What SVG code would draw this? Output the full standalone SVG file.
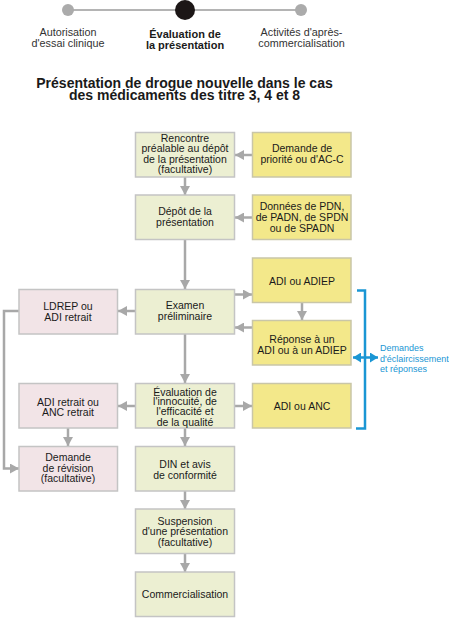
<svg xmlns="http://www.w3.org/2000/svg" width="449" height="618" viewBox="0 0 449 618">
<defs>
<style>
text{font-family:"Liberation Sans",Arial,sans-serif;font-size:10.5px;fill:#1a1a1a;text-anchor:middle}
.g{fill:#ecefd2;stroke:#c4c4c4;stroke-width:1.5}
.y{fill:#f3e88a;stroke:#c9c6a8;stroke-width:1.5}
.p{fill:#f2e4e7;stroke:#c4c4c4;stroke-width:1.5}
.c{fill:none;stroke:#a8a8a8;stroke-width:2.5}
.tl{font-size:10.8px;fill:#333}
.tb{font-weight:bold;font-size:11px}
.ti{font-weight:bold;font-size:14px}
.bl{fill:none;stroke:#1a96d4;stroke-width:2.5}
.bt{fill:#1a96d4;font-size:9px;text-anchor:start}
</style>
<marker id="ah" markerUnits="userSpaceOnUse" markerWidth="9" markerHeight="10" refX="9" refY="5" orient="auto">
<path d="M0,0 L9,5 L0,10 z" fill="#a8a8a8"/>
</marker>
<marker id="bh" markerUnits="userSpaceOnUse" markerWidth="8" markerHeight="10" refX="8" refY="5" orient="auto-start-reverse">
<path d="M0,0 L8,5 L0,10 z" fill="#1a96d4"/>
</marker>
</defs>
<rect width="449" height="618" fill="#ffffff"/>

<g id="timeline">
<line x1="68" y1="10" x2="301" y2="10" stroke="#b4b4b4" stroke-width="2"/>
<circle cx="68" cy="10" r="6" fill="#ababab"/>
<circle cx="301" cy="10" r="6" fill="#ababab"/>
<circle cx="185" cy="10" r="10" fill="#1c1616"/>
<text class="tl" x="68" y="35.5">Autorisation</text>
<text class="tl" x="68" y="46.5">d'essai clinique</text>
<text class="tb" x="185" y="37.5">Évaluation de</text>
<text class="tb" x="185" y="48.5">la présentation</text>
<text class="tl" x="301.5" y="35.5">Activités d'après-</text>
<text class="tl" x="301.5" y="46.5">commercialisation</text>
</g>

<g id="title">
<text class="ti" x="184.5" y="87.5">Présentation de drogue nouvelle dans le cas</text>
<text class="ti" x="184.5" y="100">des médicaments des titre 3, 4 et 8</text>
</g>

<g id="connectors">
<line class="c" x1="252" y1="155" x2="235" y2="155" marker-end="url(#ah)"/>
<line class="c" x1="185" y1="177" x2="185" y2="195" marker-end="url(#ah)"/>
<line class="c" x1="252" y1="217.5" x2="235" y2="217.5" marker-end="url(#ah)"/>
<line class="c" x1="185" y1="239" x2="185" y2="289" marker-end="url(#ah)"/>
<line class="c" x1="234" y1="294.5" x2="252" y2="294.5" marker-end="url(#ah)"/>
<line class="c" x1="302" y1="302" x2="302" y2="320" marker-end="url(#ah)"/>
<line class="c" x1="252" y1="327.5" x2="235" y2="327.5" marker-end="url(#ah)"/>
<line class="c" x1="135" y1="311" x2="118" y2="311" marker-end="url(#ah)"/>
<line class="c" x1="185" y1="334" x2="185" y2="383" marker-end="url(#ah)"/>
<line class="c" x1="234" y1="406" x2="252" y2="406" marker-end="url(#ah)"/>
<line class="c" x1="135" y1="406" x2="118" y2="406" marker-end="url(#ah)"/>
<line class="c" x1="68" y1="428" x2="68" y2="446" marker-end="url(#ah)"/>
<polyline class="c" points="19,311 4,311 4,468.5 19,468.5" marker-end="url(#ah)"/>
<line class="c" x1="185" y1="428" x2="185" y2="446" marker-end="url(#ah)"/>
<line class="c" x1="185" y1="491" x2="185" y2="509" marker-end="url(#ah)"/>
<line class="c" x1="185" y1="554" x2="185" y2="572" marker-end="url(#ah)"/>
</g>

<g id="n-rencontre">
<rect class="g" x="135.5" y="132.5" width="99" height="44.5"/>
<text x="185" y="142.3">Rencontre</text>
<text x="185" y="152.4">préalable au dépôt</text>
<text x="185" y="162.5">de la présentation</text>
<text x="185" y="172.5">(facultative)</text>
</g>
<g id="n-priorite">
<rect class="y" x="252.5" y="132.5" width="98.5" height="44.5"/>
<text x="302" y="152.3">Demande de</text>
<text x="302" y="162.7">priorité ou d'AC-C</text>
</g>
<g id="n-depot">
<rect class="g" x="135.5" y="195" width="99" height="44.5"/>
<text x="185" y="215">Dépôt de la</text>
<text x="185" y="225.7">présentation</text>
</g>
<g id="n-donnees">
<rect class="y" x="252.5" y="195" width="98.5" height="44.5"/>
<text x="302" y="210">Données de PDN,</text>
<text x="302" y="221">de PADN, de SPDN</text>
<text x="302" y="231.7">ou de SPADN</text>
</g>
<g id="n-adi-adiep">
<rect class="y" x="252.5" y="258" width="98.5" height="44.5"/>
<text x="302" y="284.7">ADI ou ADIEP</text>
</g>
<g id="n-examen">
<rect class="g" x="135.5" y="289.5" width="99" height="44.5"/>
<text x="185" y="309">Examen</text>
<text x="185" y="320">préliminaire</text>
</g>
<g id="n-ldrep">
<rect class="p" x="19" y="289.5" width="98.5" height="44.5"/>
<text x="68" y="310">LDREP ou</text>
<text x="68" y="320.7">ADI retrait</text>
</g>
<g id="n-reponse">
<rect class="y" x="252.5" y="320.5" width="98.5" height="44.5"/>
<text x="302" y="343">Réponse à un</text>
<text x="302" y="353.7">ADI ou à un ADIEP</text>
</g>
<g id="n-evaluation">
<rect class="g" x="135.5" y="383.5" width="99" height="44.5"/>
<text x="185" y="395.7">Évaluation de</text>
<text x="185" y="405.4">l'innocuité, de</text>
<text x="185" y="415.4">l'efficacité et</text>
<text x="185" y="425.7">de la qualité</text>
</g>
<g id="n-adi-retrait">
<rect class="p" x="19" y="383.5" width="98.5" height="44.5"/>
<text x="68" y="405.7">ADI retrait ou</text>
<text x="68" y="416">ANC retrait</text>
</g>
<g id="n-adi-anc">
<rect class="y" x="252.5" y="383.5" width="98.5" height="44.5"/>
<text x="302" y="410">ADI ou ANC</text>
</g>
<g id="n-revision">
<rect class="p" x="19" y="446.5" width="98.5" height="44.5"/>
<text x="68" y="461.3">Demande</text>
<text x="68" y="471.7">de révision</text>
<text x="68" y="482.3">(facultative)</text>
</g>
<g id="n-din">
<rect class="g" x="135.5" y="446.5" width="99" height="44.5"/>
<text x="185" y="468.3">DIN et avis</text>
<text x="185" y="479">de conformité</text>
</g>
<g id="n-suspension">
<rect class="g" x="135.5" y="509" width="99" height="44.5"/>
<text x="185" y="524.7">Suspension</text>
<text x="185" y="535.3">d'une présentation</text>
<text x="185" y="545.7">(facultative)</text>
</g>
<g id="n-commercialisation">
<rect class="g" x="135.5" y="572" width="99" height="44.5"/>
<text x="185" y="598.3">Commercialisation</text>
</g>

<g id="bracket">
<polyline class="bl" points="357,290.5 365,290.5 365,428.5 356,428.5"/>
<line x1="353" y1="357.5" x2="378" y2="357.5" stroke="#1a96d4" stroke-width="2.5" marker-start="url(#bh)" marker-end="url(#bh)"/>
<text class="bt" x="380" y="351">Demandes</text>
<text class="bt" x="380" y="361.5">d'éclaircissement</text>
<text class="bt" x="380" y="372">et réponses</text>
</g>
</svg>
